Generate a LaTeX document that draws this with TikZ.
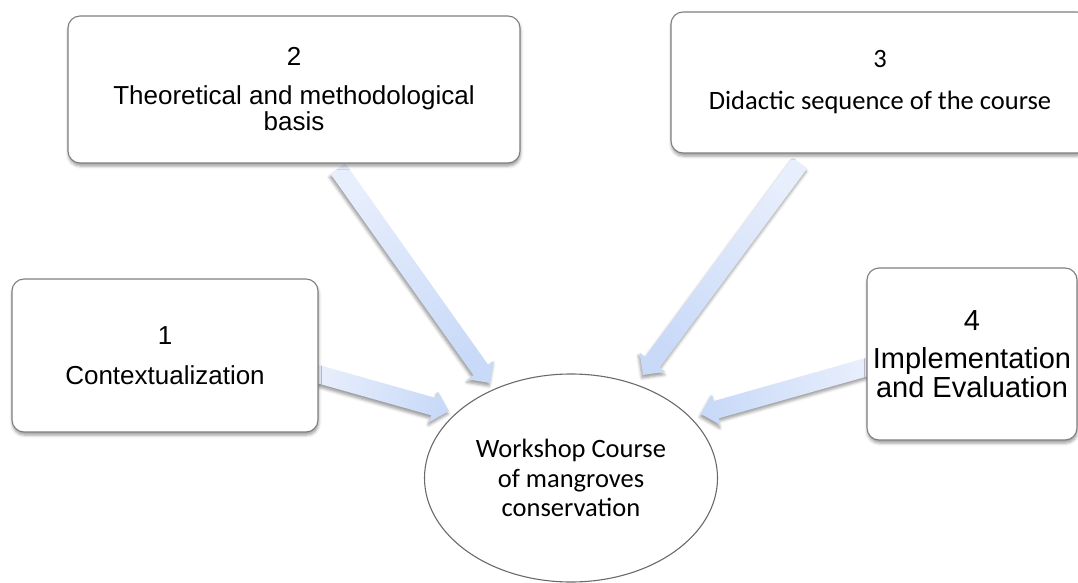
\documentclass[tikz,border=0pt]{standalone}
\usepackage{fontspec}
\setmainfont{Liberation Sans}
\newfontfamily\calib{Carlito}
\usetikzlibrary{calc,shapes.geometric,shadows.blur}

\definecolor{boxline}{HTML}{7F7F7F}
\definecolor{ellline}{HTML}{6A6A6A}
\definecolor{arrtail}{HTML}{E7EEFC}
\definecolor{arrhead}{HTML}{C9DAF8}

\tikzset{
  stagebox/.style={draw=boxline, line width=1.1pt, rounded corners=12pt, fill=white,
    blur shadow={shadow xshift=0.5pt, shadow yshift=-3pt, shadow blur radius=3pt, shadow opacity=40},
    inner sep=0pt, align=center},
  centreell/.style={ellipse, draw=ellline, line width=1.1pt, fill=white, inner sep=0pt,
    align=center, minimum width=293pt, minimum height=208pt},
  arrowstyle/.style={left color=arrtail, right color=arrhead,
    blur shadow={shadow xshift=-1pt, shadow yshift=-3pt, shadow blur radius=3pt, shadow opacity=40}},
  arialtext/.style={font=\fontsize{26}{27}\selectfont},
}

\newcommand\blockarrow[3]{%
  \coordinate (n-#2) at ($(#2)!16pt!(#1)$);
  \path[arrowstyle, shading angle=#3]
    ($(#1)!9pt!90:(#2)$) -- ($(n-#2)!9pt!-90:(#1)$) -- ($(n-#2)!16pt!-90:(#1)$)
    -- (#2) -- ($(n-#2)!16pt!90:(#1)$) -- ($(n-#2)!9pt!90:(#1)$)
    -- ($(#1)!9pt!-90:(#2)$) -- cycle;
}

\begin{document}
\begin{tikzpicture}[x=1pt, y=-1pt]
  \useasboundingbox (0,0) rectangle (1078,583);
  \clip (0,0) rectangle (1078,583);

  % arrow end points
  \coordinate (s1) at (314,373);
  \coordinate (t1) at (449,411);
  \coordinate (s2) at (338,169);
  \coordinate (t2) at (490,383);
  \coordinate (s3) at (800,163);
  \coordinate (t3) at (643,375);
  \coordinate (s4) at (871,366);
  \coordinate (t4) at (701,414);

  % arrows (drawn first, under the boxes)
  \blockarrow{s1}{t1}{74}
  \blockarrow{s2}{t2}{35}
  \blockarrow{s3}{t3}{-36.5}
  \blockarrow{s4}{t4}{-74}

  % boxes
  \node[stagebox, arialtext, minimum width=306pt, minimum height=153pt] (b1) at (165,355.5)
    {1\\[13pt]Contextualization};
  \node[stagebox, font=\fontsize{26}{26}\selectfont, minimum width=452pt, minimum height=147pt] (b2) at (294,89.5)
    {2\\[13pt]Theoretical and methodological\\basis};
  \node[stagebox, font=\calib\fontsize{26.5}{28}\selectfont, minimum width=418pt, minimum height=141pt] (b3) at (880,82.5)
    {3\\[14pt]Didactic sequence of the course};
  \node[stagebox, font=\fontsize{29}{29}\selectfont, minimum width=210pt, minimum height=172pt] (b4) at (972,354)
    {4\\[9pt]Implementation\\and Evaluation};

  % centre ellipse
  \node[centreell, font=\calib\fontsize{26.5}{29.5}\selectfont] (el) at (571,478)
    {Workshop Course\\of mangroves\\conservation};
\end{tikzpicture}
\end{document}
